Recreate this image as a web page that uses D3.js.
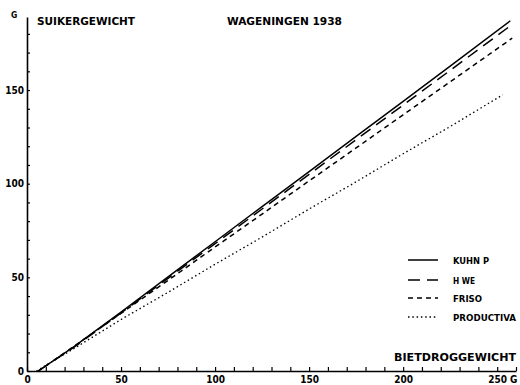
<!DOCTYPE html>
<html>
<head>
<meta charset="utf-8">
<script src="https://cdn.jsdelivr.net/npm/d3@7"></script>
<style>
  body { margin: 0; background: #fff; }
  svg text { font-family: "DejaVu Sans Condensed", "DejaVu Sans", sans-serif; font-weight: bold; fill: #000; }
</style>
</head>
<body>
<svg id="chart"></svg>
<script>
// bietdroggewicht (x) en suikergewicht (y)
var kuhnX = [6, 25, 50, 75, 100, 125, 150, 175, 200, 225, 257];
var kuhnY = [0, 13, 31.5, 50.3, 69, 87.8, 106.5, 125.3, 144, 162.8, 187];
var hweX  = [6, 25, 50, 75, 100, 125, 150, 175, 200, 225, 257];
var hweY  = [0, 12.7, 31, 49.5, 68, 86.5, 105, 123.5, 142, 160.5, 184.3];
var frisoX = [6, 25, 50, 75, 100, 125, 150, 175, 200, 225, 258];
var frisoY = [0, 13.2, 30.8, 48.4, 66.2, 83.8, 101.5, 119.1, 136.8, 154.4, 177.7];
var prodX = [5, 25, 50, 75, 100, 125, 150, 175, 200, 225, 253];
var prodY = [0, 12, 27.5, 42, 57, 71.5, 86.5, 101, 116, 130.5, 147.5];

var seriesNames = ['KUHN P', 'H WE', 'FRISO', 'PRODUCTIVA'];
var seriesDash = ['none', '12,7', '5,4', '1.5,2.8'];
var xTicks = d3.range(0, 261, 10);
var yTicks = d3.range(0, 181, 10);
var xLabels = [0, 50, 100, 150, 200, 250];
var yLabels = [0, 50, 100, 150];

var width = 520, height = 385;
var svg = d3.select('#chart').attr('width', width).attr('height', height);

var x = d3.scaleLinear().domain([0, 260]).range([27, 516]);
var y = d3.scaleLinear().domain([0, 189]).range([371, 17]);

// x axis, ticks pointing up
var xAxis = d3.axisBottom(x)
    .tickValues(xTicks)
    .tickSizeInner(-4).tickSizeOuter(0).tickPadding(5)
    .tickFormat(d => xLabels.indexOf(d) >= 0 ? d : '');
var gx = svg.append('g').attr('transform', 'translate(0,371)').call(xAxis);
gx.select('.domain').attr('stroke-width', 1.6);
gx.selectAll('.tick line').attr('stroke-width', 1.2);
gx.selectAll('text').style('font-size', '10px');

// y axis, ticks pointing right
var yAxis = d3.axisLeft(y)
    .tickValues(yTicks)
    .tickSizeInner(-3).tickSizeOuter(0).tickPadding(3)
    .tickFormat(d => yLabels.indexOf(d) >= 0 ? d : '');
var gy = svg.append('g').attr('transform', 'translate(27,0)').call(yAxis);
gy.select('.domain').attr('stroke-width', 1.6);
gy.selectAll('.tick line').attr('stroke-width', 1.2);
gy.selectAll('text').style('font-size', '10px');

// the lines
var line = d3.line().x(d => x(d[0])).y(d => y(d[1]));
var allSeries = [
  d3.zip(kuhnX, kuhnY),
  d3.zip(hweX, hweY),
  d3.zip(frisoX, frisoY),
  d3.zip(prodX, prodY)
];
svg.selectAll('.serie')
  .data(allSeries)
  .enter().append('path')
    .attr('class', 'serie')
    .attr('d', line)
    .attr('fill', 'none')
    .attr('stroke', '#000')
    .attr('stroke-width', (d, i) => i == 3 ? 1.3 : 1.5)
    .attr('stroke-dasharray', (d, i) => seriesDash[i]);

// legend
var legendWidths = [36, 22, 29, 63];
var legend = svg.append('g').attr('transform', 'translate(408,260)');
var item = legend.selectAll('g')
  .data(seriesNames)
  .enter().append('g')
    .attr('transform', (d, i) => 'translate(0,' + [0, 20, 38, 57][i] + ')');
item.append('line')
    .attr('x1', 0).attr('x2', 30)
    .attr('stroke', '#000')
    .attr('stroke-width', 1.5)
    .attr('stroke-dasharray', (d, i) => seriesDash[i]);
item.append('text')
    .attr('x', 45).attr('y', 3.5)
    .style('font-size', '8.5px')
    .attr('textLength', (d, i) => legendWidths[i])
    .attr('lengthAdjust', 'spacingAndGlyphs')
    .text(d => d);

// titles
function title(tx, ty, size, len, s) {
  var t = svg.append('text').attr('x', tx).attr('y', ty).style('font-size', size + 'px').text(s);
  if (len) t.attr('textLength', len).attr('lengthAdjust', 'spacingAndGlyphs');
}
title(11, 18, 8.5, 0, 'G');
title(37, 25, 11, 98, 'SUIKERGEWICHT');
title(227, 25, 11, 115, 'WAGENINGEN 1938');
title(394, 361, 11, 122, 'BIETDROGGEWICHT');
title(510, 383, 10, 0, 'G');
</script>
</body>
</html>
